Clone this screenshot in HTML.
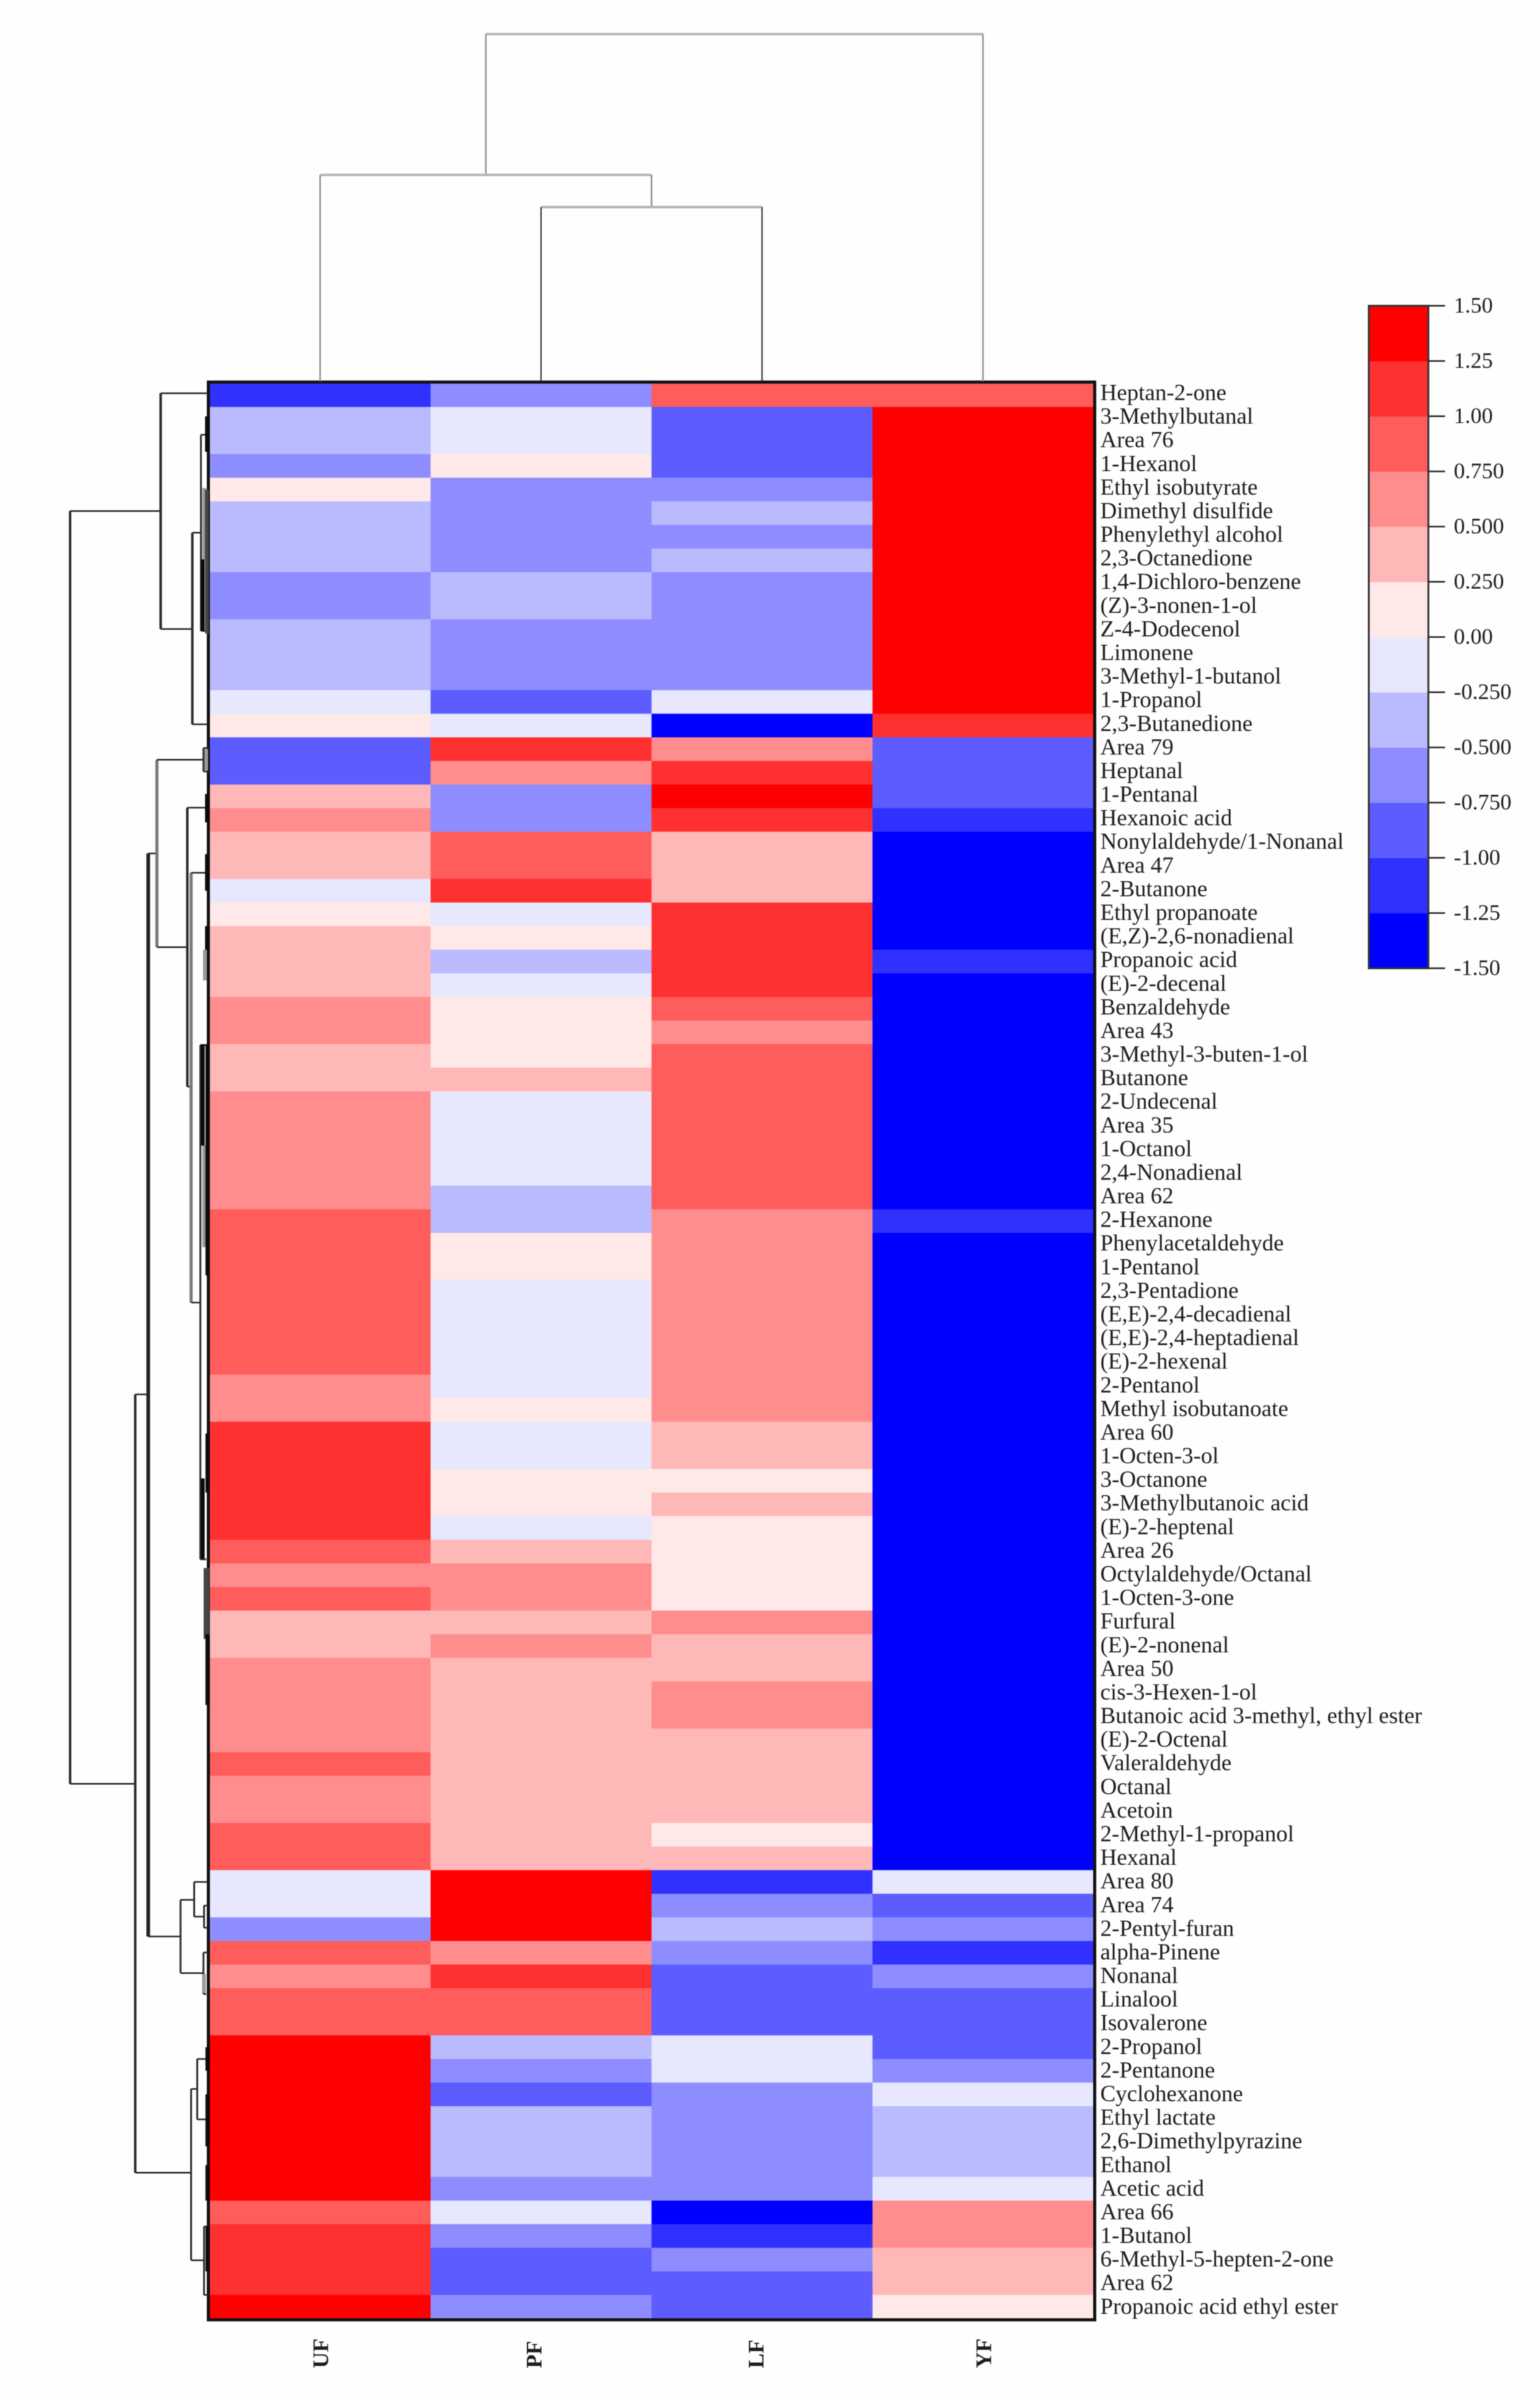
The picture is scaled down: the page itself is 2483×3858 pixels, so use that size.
<!DOCTYPE html>
<html lang="en">
<head>
<meta charset="utf-8">
<title>Heatmap of volatile compounds</title>
<style>
html,body{margin:0;padding:0;background:#fff;}
body{width:2483px;height:3858px;overflow:hidden;}
svg{display:block;filter:blur(0.8px);}
text{font-family:"Liberation Serif",serif;fill:#1c1c1c;}
</style>
</head>
<body>
<svg id="chart" xmlns="http://www.w3.org/2000/svg" width="2483" height="3858" viewBox="0 0 2483 3858">
<rect x="0" y="0" width="2483" height="3858" fill="#fefefe"/>
</svg>
<script>
const samples = ["UF","PF","LF","YF"];
const compounds = ["Heptan-2-one","3-Methylbutanal","Area 76","1-Hexanol","Ethyl isobutyrate","Dimethyl disulfide","Phenylethyl alcohol","2,3-Octanedione","1,4-Dichloro-benzene","(Z)-3-nonen-1-ol","Z-4-Dodecenol","Limonene","3-Methyl-1-butanol","1-Propanol","2,3-Butanedione","Area 79","Heptanal","1-Pentanal","Hexanoic acid","Nonylaldehyde/1-Nonanal","Area 47","2-Butanone","Ethyl propanoate","(E,Z)-2,6-nonadienal","Propanoic acid","(E)-2-decenal","Benzaldehyde","Area 43","3-Methyl-3-buten-1-ol","Butanone","2-Undecenal","Area 35","1-Octanol","2,4-Nonadienal","Area 62","2-Hexanone","Phenylacetaldehyde","1-Pentanol","2,3-Pentadione","(E,E)-2,4-decadienal","(E,E)-2,4-heptadienal","(E)-2-hexenal","2-Pentanol","Methyl isobutanoate","Area 60","1-Octen-3-ol","3-Octanone","3-Methylbutanoic acid","(E)-2-heptenal","Area 26","Octylaldehyde/Octanal","1-Octen-3-one","Furfural","(E)-2-nonenal","Area 50","cis-3-Hexen-1-ol","Butanoic acid 3-methyl, ethyl ester","(E)-2-Octenal","Valeraldehyde","Octanal","Acetoin","2-Methyl-1-propanol","Hexanal","Area 80","Area 74","2-Pentyl-furan","alpha-Pinene","Nonanal","Linalool","Isovalerone","2-Propanol","2-Pentanone","Cyclohexanone","Ethyl lactate","2,6-Dimethylpyrazine","Ethanol","Acetic acid","Area 66","1-Butanol","6-Methyl-5-hepten-2-one","Area 62","Propanoic acid ethyl ester"];
const valuesUF = [-1.125,-.375,-.375,-.625,.125,-.375,-.375,-.375,-.625,-.625,-.375,-.375,-.375,-.125,.125,-.875,-.875,.375,.625,.375,.375,-.125,.125,.375,.375,.375,.625,.625,.375,.375,.625,.625,.625,.625,.625,.875,.875,.875,.875,.875,.875,.875,.625,.625,1.125,1.125,1.125,1.125,1.125,.875,.625,.875,.375,.375,.625,.625,.625,.625,.875,.625,.625,.875,.875,-.125,-.125,-.625,.875,.625,.875,.875,1.375,1.375,1.375,1.375,1.375,1.375,1.375,.875,1.125,1.125,1.125,1.375];
const valuesPF = [-.625,-.125,-.125,.125,-.625,-.625,-.625,-.625,-.375,-.375,-.625,-.625,-.625,-.875,-.125,1.125,.625,-.625,-.625,.875,.875,1.125,-.125,.125,-.375,-.125,.125,.125,.125,.375,-.125,-.125,-.125,-.125,-.375,-.375,.125,.125,-.125,-.125,-.125,-.125,-.125,.125,-.125,-.125,.125,.125,-.125,.375,.625,.625,.375,.625,.375,.375,.375,.375,.375,.375,.375,.375,.375,1.375,1.375,1.375,.625,1.125,.875,.875,-.375,-.625,-.875,-.375,-.375,-.375,-.625,-.125,-.625,-.875,-.875,-.625];
const valuesLF = [.875,-.875,-.875,-.875,-.625,-.375,-.625,-.375,-.625,-.625,-.625,-.625,-.625,-.125,-1.375,.625,1.125,1.375,1.125,.375,.375,.375,1.125,1.125,1.125,1.125,.875,.625,.875,.875,.875,.875,.875,.875,.875,.625,.625,.625,.625,.625,.625,.625,.625,.625,.375,.375,.125,.375,.125,.125,.125,.125,.625,.375,.375,.625,.625,.375,.375,.375,.375,.125,.375,-1.125,-.625,-.375,-.625,-.875,-.875,-.875,-.125,-.125,-.625,-.625,-.625,-.625,-.625,-1.375,-1.125,-.625,-.875,-.875];
const valuesYF = [.875,1.375,1.375,1.375,1.375,1.375,1.375,1.375,1.375,1.375,1.375,1.375,1.375,1.375,1.125,-.875,-.875,-.875,-1.125,-1.375,-1.375,-1.375,-1.375,-1.375,-1.125,-1.375,-1.375,-1.375,-1.375,-1.375,-1.375,-1.375,-1.375,-1.375,-1.375,-1.125,-1.375,-1.375,-1.375,-1.375,-1.375,-1.375,-1.375,-1.375,-1.375,-1.375,-1.375,-1.375,-1.375,-1.375,-1.375,-1.375,-1.375,-1.375,-1.375,-1.375,-1.375,-1.375,-1.375,-1.375,-1.375,-1.375,-1.375,-.125,-.875,-.625,-1.125,-.625,-.875,-.875,-.875,-.625,-.125,-.375,-.375,-.375,-.125,.625,.625,.375,.375,.125];
const tickValues = [1.5,1.25,1,.75,.5,.25,0,-.25,-.5,-.75,-1,-1.25,-1.5];
const tickLabels = ["1.50","1.25","1.00","0.750","0.500","0.250","0.00","-0.250","-0.500","-0.750","-1.00","-1.25","-1.50"];
const binColors = ["#0000ff","#3030ff","#5c5cff","#8d8dff","#babaff","#e7e7fd","#ffe8e8","#ffb8b8","#ff8d8d","#ff5c5c","#ff3030","#ff0000"];

/* Column dendrogram merges: [distance, left column, left child distance, right column, right child distance] */
const columnMergesGrey = [[10,1.25,5.946,3.5,0],[5.946,.5,0,2,5.02]];
const columnMergesDark = [[5.02,1.5,0,2.5,0]];

/* Row dendrogram merges: [distance, upper row, upper child distance, lower row, lower child distance] */
const rowMergesMain = [[10,5.41,3.48,59.34,5.31],[3.48,.42,0,10.41,1.2],[5.31,42.84,4.375,75.82,1.29],[1.2,6.33,.58,14.45,0],[1.56,17.98,0,29.8,1.29]];
const rowMergesHeavy = [[4.375,19.92,3.75,65.81,2.05]];
const rowMergesGrey = [[3.75,15.95,.4,23.89,1.56],[1.29,20.74,0,38.95,.625]];
const rowMergesSmall = [[.58,2.18,.09,10.49,.09],[.625,28.04,.2,49.83,.2],[2.05,64.26,1.07,67.36,.4],[1.07,63.5,0,64.97,.36],[.36,64.5,0,65.44,0],[.4,66.49,0,68.25,.2],[1.29,72.27,.85,79.53,.36],[.85,71,0,73.56,0],[.36,78.1,0,81,0],[.4,15.45,0,16.45,0]];
/* Dense clusters of near-zero merges, seen as solid strips: [distance, upper row, lower row] */
const tightClustersBlack = [[.15,1.4,2.9],[.45,7.46,10.5],[.15,17.4,18.6],[.15,19.95,21.5],[.15,23,24],[.45,28,32.3],[.12,28,37.8],[.45,46.4,49.8],[.12,44.5,47],[.12,53,56],[.12,70.5,71.5],[.12,72.5,74.7],[.12,75.5,77],[.12,78.1,80]];
const tightClustersDarkGrey = [[.15,4.5,10.6],[.25,50.2,53.2],[.1,50.2,53.2]];
const tightClustersGrey = [[.35,4.44,7.46],[.35,32.3,36.6],[.2,15.5,16.4],[.3,24,25.3],[.36,67.4,68.2]];

const NS = "http://www.w3.org/2000/svg";
const svg = document.getElementById("chart");
const plotLeft = 338, plotRight = 1763, plotTop = 618, plotBottom = 3738;
const colWidth = (plotRight - plotLeft) / samples.length;
const rowHeight = (plotBottom - plotTop) / compounds.length;
const xCol = c => plotLeft + c * colWidth;
const yRow = r => plotTop + r * rowHeight;
const xRowDist = d => 337 - d * 22.4;
const yColDist = d => 615 - d * 56;
const barTop = 493, barBottom = 1561, barLeft = 2207, barRight = 2303;
const yLegend = v => barTop + (1.5 - v) / 3 * (barBottom - barTop);
const binIndex = v => Math.max(0, Math.min(binColors.length - 1, Math.floor((v + 1.5) / .25)));

function mk(tag, attrs) {
  const el = document.createElementNS(NS, tag);
  for (const k in attrs) el.setAttribute(k, attrs[k]);
  svg.appendChild(el);
  return el;
}

/* heat cells */
[valuesUF, valuesPF, valuesLF, valuesYF].forEach((series, c) => {
  series.forEach((v, r) => {
    const cell = mk("rect", {x: xCol(c), y: yRow(r), width: colWidth + .5, height: rowHeight + .5, fill: binColors[binIndex(v)]});
    
    
  });
});

/* heatmap frame */
const frame = mk("rect", {x: plotLeft - 2, y: plotTop - 2, width: plotRight - plotLeft + 4, height: plotBottom - plotTop + 4, fill: "none", stroke: "#111", "stroke-width": 5});



/* compound labels */
compounds.forEach((name, r) => {
  const t = mk("text", {x: 1774, y: 645 + 38.09 * r, "font-size": 37});
  t.textContent = name;
  
  
});

/* sample labels */
const sampleOffsets = [.5, .465, .47, .5];
samples.forEach((name, c) => {
  const px = xCol(c + sampleOffsets[c]) + 13;
  const t = mk("text", {x: px, y: 3818, "font-size": 36, "font-weight": "bold", "text-anchor": "start", transform: "rotate(-90 " + px + " 3818)"});
  t.textContent = name;
  
  
});

/* column dendrogram */
function drawColumnMerge(m, stemColor, width) {
  const [d, a, da, b, db] = m;
  const bar = mk("line", {x1: xCol(a), x2: xCol(b), y1: yColDist(d), y2: yColDist(d), stroke: "#b4b4b4", "stroke-width": 4});
  
  
  const left = mk("line", {x1: xCol(a), x2: xCol(a), y1: yColDist(d), y2: yColDist(da), stroke: stemColor, "stroke-width": width});
  
  
  const right = mk("line", {x1: xCol(b), x2: xCol(b), y1: yColDist(d), y2: yColDist(db), stroke: stemColor, "stroke-width": width});
  
  
}
columnMergesGrey.forEach(m => drawColumnMerge(m, "#8f8f8f", 2.5));
columnMergesDark.forEach(m => drawColumnMerge(m, "#222", 2));

/* row dendrogram */
function drawRowMerge(m, color, width) {
  const [d, r1, d1, r2, d2] = m;
  const stem = mk("line", {x1: xRowDist(d), x2: xRowDist(d), y1: yRow(r1), y2: yRow(r2), stroke: color, "stroke-width": width});
  
  
  const upper = mk("line", {x1: xRowDist(d), x2: xRowDist(d1), y1: yRow(r1), y2: yRow(r1), stroke: "#222", "stroke-width": 2.5});
  
  
  const lower = mk("line", {x1: xRowDist(d), x2: xRowDist(d2), y1: yRow(r2), y2: yRow(r2), stroke: "#222", "stroke-width": 2.5});
  
  
}
rowMergesMain.forEach(m => drawRowMerge(m, "#2b2b2b", 4));
rowMergesHeavy.forEach(m => drawRowMerge(m, "#222", 6));
rowMergesGrey.forEach(m => drawRowMerge(m, "#777", 5));
rowMergesSmall.forEach(m => drawRowMerge(m, "#2b2b2b", 3));

function drawTightCluster(m, color, width) {
  const [d, r1, r2] = m;
  const strip = mk("line", {x1: xRowDist(d), x2: xRowDist(d), y1: yRow(r1), y2: yRow(r2), stroke: color, "stroke-width": width});
  
  
}
tightClustersGrey.forEach(m => drawTightCluster(m, "#999", 6));
tightClustersDarkGrey.forEach(m => drawTightCluster(m, "#444", 6));
tightClustersBlack.forEach(m => drawTightCluster(m, "#0a0a0a", 6));

/* colour legend */
binColors.forEach((color, i) => {
  const low = -1.5 + i * .25;
  const swatch = mk("rect", {x: barLeft, y: yLegend(low + .25), width: barRight - barLeft, height: yLegend(low) - yLegend(low + .25) + .5, fill: color});
  
  
});
const legendFrame = mk("rect", {x: barLeft, y: barTop, width: barRight - barLeft, height: barBottom - barTop, fill: "none", stroke: "#333", "stroke-width": 3});


tickValues.forEach((v, i) => {
  const tick = mk("line", {x1: barRight, x2: 2330, y1: yLegend(v), y2: yLegend(v), stroke: "#222", "stroke-width": 2.5});
  
  
  const label = mk("text", {x: 2344, y: yLegend(v) + 11, "font-size": 36});
  label.textContent = tickLabels[i];
  
  
});
</script>
</body>
</html>
